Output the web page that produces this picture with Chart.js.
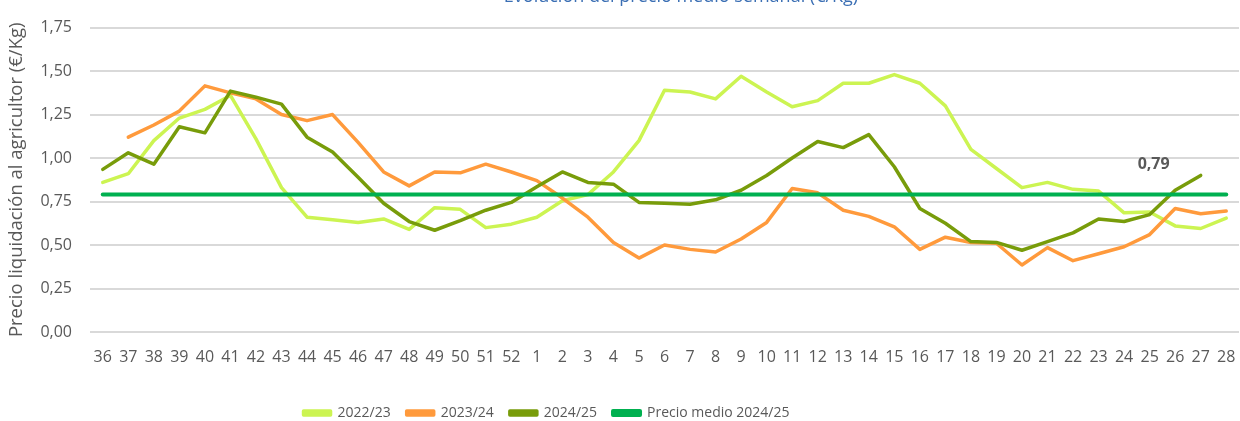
<!DOCTYPE html>
<html>
<head>
<meta charset="utf-8">
<script src="https://cdn.jsdelivr.net/npm/chart.js@4.4.1/dist/chart.umd.min.js"></script>
<style>
    html, body { margin: 0; padding: 0; background: #fff; overflow: hidden; }
    #wrap { position: relative; width: 1240px; height: 421px; }
</style>
</head>
<body>
<div id="wrap"><canvas id="priceChart"></canvas></div>
<script>
// Semanas de campaña (36 a 52 y 1 a 28)
const weeks = ['36','37','38','39','40','41','42','43','44','45','46','47','48','49','50','51','52',
    '1','2','3','4','5','6','7','8','9','10','11','12','13','14','15','16','17','18','19','20',
    '21','22','23','24','25','26','27','28'];

const season2223 = [0.86, 0.91, 1.10, 1.23, 1.28, 1.36, 1.11, 0.83, 0.66, 0.645, 0.63, 0.65, 0.59, 0.715, 0.705, 0.60, 0.62,
    0.66, 0.755, 0.79, 0.92, 1.10, 1.39, 1.38, 1.34, 1.47, 1.38, 1.295, 1.33, 1.43, 1.43, 1.48, 1.43, 1.30, 1.05, 0.94, 0.83,
    0.86, 0.82, 0.81, 0.685, 0.69, 0.61, 0.595, 0.655];

const season2324 = [null, 1.12, 1.19, 1.27, 1.415, 1.375, 1.34, 1.25, 1.215, 1.25, 1.09, 0.92, 0.84, 0.92, 0.915, 0.965, 0.92,
    0.87, 0.77, 0.66, 0.515, 0.425, 0.50, 0.475, 0.46, 0.535, 0.63, 0.825, 0.80, 0.70, 0.665, 0.605, 0.475, 0.545, 0.515, 0.51, 0.385,
    0.485, 0.41, 0.45, 0.49, 0.56, 0.71, 0.68, 0.695];

const season2425 = [0.935, 1.03, 0.965, 1.18, 1.145, 1.385, 1.35, 1.31, 1.12, 1.035, 0.89, 0.74, 0.635, 0.585, 0.64, 0.70, 0.745,
    0.835, 0.92, 0.86, 0.85, 0.745, 0.74, 0.735, 0.76, 0.815, 0.90, 1.00, 1.095, 1.06, 1.135, 0.95, 0.71, 0.625, 0.52, 0.515, 0.47,
    0.52, 0.57, 0.65, 0.635, 0.675, 0.815, 0.90];

const avgPrice = 0.79;
const avgLabelWeek = '25';

const yTicks = [0, 0.25, 0.5, 0.75, 1, 1.25, 1.5, 1.75];

const FONT = "'Open Sans', sans-serif";
const TEXT = '#595959';

const fmt = v => v.toFixed(2).replace('.', ',');

// Titulo cortado en la parte superior
const titlePlugin = {
    id: 'cutTitle',
    afterDraw(chart) {
        const c = chart.ctx;
        c.save();
        c.font = "18px " + FONT;
        c.fillStyle = '#3B6FB4';
        c.textAlign = 'center';
        c.textBaseline = 'alphabetic';
        c.fillText('Evolución del precio medio semanal (€/Kg)', 681, 2);
        c.restore();
    }
};

// La leyenda de Excel no está centrada: se desplaza a la izquierda
const legendShift = {
    id: 'legendShift',
    afterLayout(chart) {
        if (!chart.legend) return;
        chart.legend.left -= 73;
        chart.legend.right -= 73;
    }
};

// Etiqueta del precio medio
const avgLabelPlugin = {
    id: 'avgLabel',
    afterDatasetsDraw(chart) {
        const meta = chart.getDatasetMeta(3);
        const idx = weeks.indexOf(avgLabelWeek);
        const pt = meta.data[idx];
        if (!pt) return;
        const c = chart.ctx;
        c.save();
        c.font = "bold 16px " + FONT;
        c.fillStyle = TEXT;
        c.textAlign = 'center';
        c.textBaseline = 'middle';
        c.fillText(fmt(avgPrice), pt.x + 4, pt.y - 30);
        c.restore();
    }
};

const ctx = document.getElementById('priceChart');

new Chart(ctx, {
    type: 'line',
    data: {
        labels: weeks,
        datasets: [
            {
                label: '2022/23',
                data: season2223,
                borderColor: '#CCF452',
                backgroundColor: '#CCF452',
                borderWidth: 3.5,
                order: 3
            },
            {
                label: '2023/24',
                data: season2324,
                borderColor: '#FF9A3C',
                backgroundColor: '#FF9A3C',
                borderWidth: 3.5,
                order: 2
            },
            {
                label: '2024/25',
                data: season2425,
                borderColor: '#789C0A',
                backgroundColor: '#789C0A',
                borderWidth: 3.5,
                order: 1
            },
            {
                label: 'Precio medio 2024/25',
                data: weeks.map(() => avgPrice),
                borderColor: '#00B050',
                backgroundColor: '#00B050',
                borderWidth: 4,
                order: 0
            }
        ]
    },
    options: {
        responsive: true,
        maintainAspectRatio: false,
        animation: false,
        layout: {
            padding: { top: 23, right: 1, left: 0, bottom: -9 }
        },
        elements: {
            point: { radius: 0 },
            line: { tension: 0, borderCapStyle: 'round', borderJoinStyle: 'round' }
        },
        plugins: {
            legend: {
                display: true,
                position: 'bottom',
                labels: {
                    boxWidth: 27,
                    boxHeight: 4,
                    padding: 16,
                    color: TEXT,
                    font: { family: FONT, size: 14 },
                    sort: (a, b) => a.datasetIndex - b.datasetIndex
                }
            },
            tooltip: { enabled: false }
        },
        scales: {
            x: {
                offset: true,
                grid: { display: false },
                border: { display: false },
                ticks: {
                    autoSkip: false,
                    maxRotation: 0,
                    padding: 8,
                    color: TEXT,
                    font: { family: FONT, size: 16 }
                },
                afterFit: scale => {
                    scale.height = 58;
                    scale.paddingLeft = 0;
                    scale.paddingRight = 0;
                }
            },
            y: {
                min: 0,
                max: 1.75,
                afterBuildTicks: scale => { scale.ticks = yTicks.map(v => ({ value: v })); },
                grid: { color: '#D9D9D9', lineWidth: 2, drawTicks: false },
                border: { display: false },
                ticks: {
                    padding: 18,
                    color: TEXT,
                    font: { family: FONT, size: 16 },
                    callback: value => fmt(value)
                },
                title: {
                    display: true,
                    text: 'Precio liquidación al agricultor (€/Kg)',
                    color: TEXT,
                    font: { family: FONT, size: 18.5 },
                    padding: { top: 6, bottom: 0 }
                },
                afterFit: scale => { scale.width = 90; }
            }
        }
    },
    plugins: [titlePlugin, legendShift, avgLabelPlugin]
});
</script>
</body>
</html>
